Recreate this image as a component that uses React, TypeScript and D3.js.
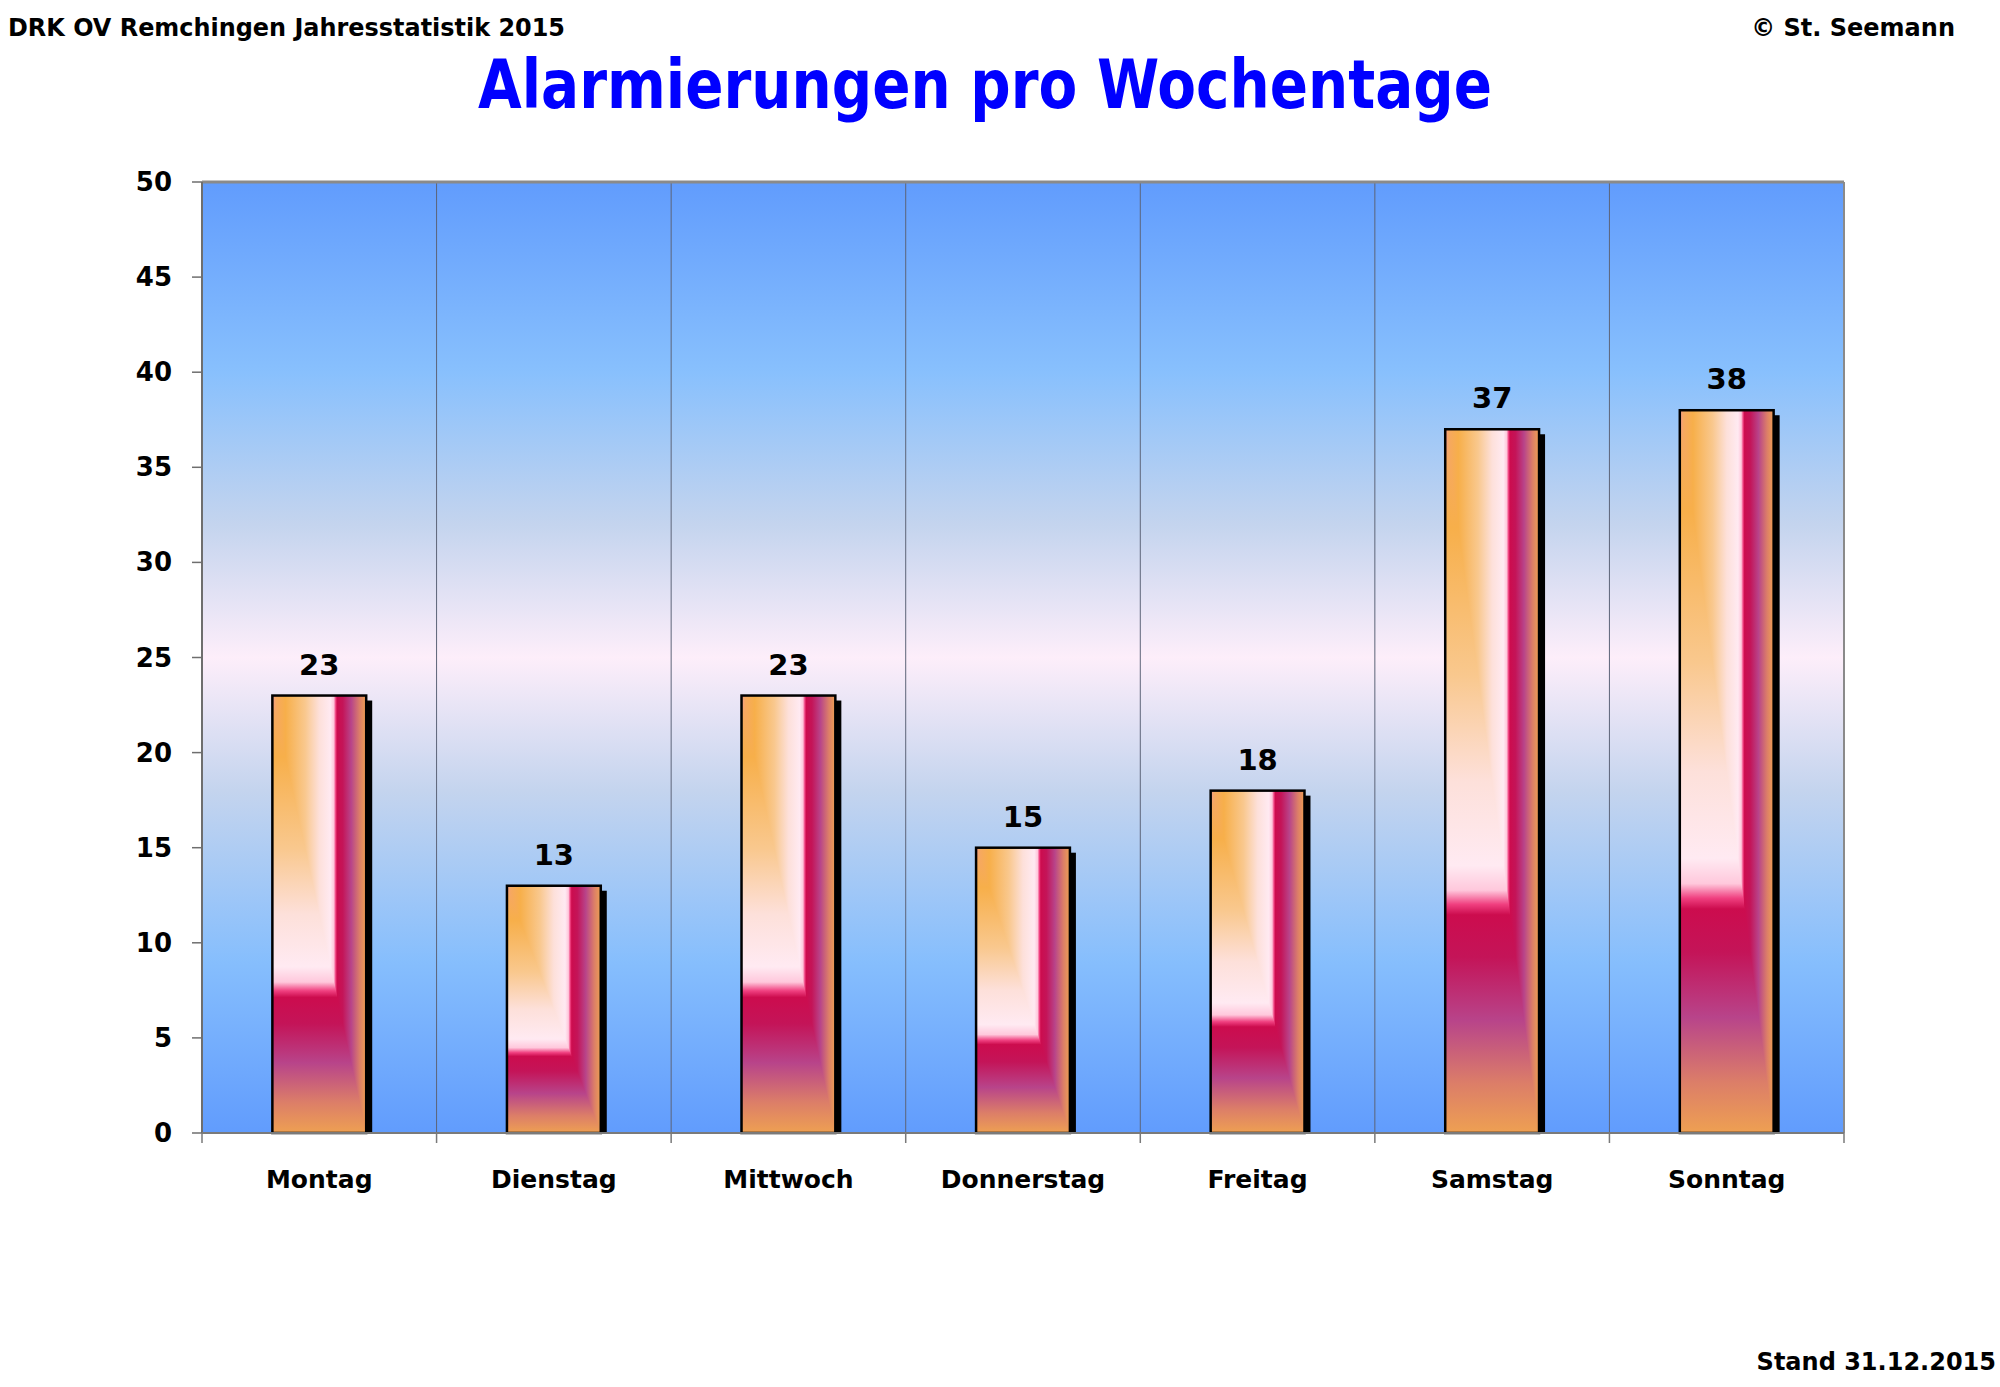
import React from "react";
import * as d3 from "d3";

const days = ["Montag", "Dienstag", "Mittwoch", "Donnerstag", "Freitag", "Samstag", "Sonntag"];
const alarms = [23, 13, 23, 15, 18, 37, 38];
const yTicks = [0, 5, 10, 15, 20, 25, 30, 35, 40, 45, 50];

const W = 2000;
const H = 1387;
const font = "'Comic Sans MS', 'DejaVu Sans', sans-serif";

// t = 0 at the bar's right/bottom edge, t = 1 at the left/top edge
const barStops: [number, string][] = [
  [0, "#eea052"],
  [0.07, "#dc7e68"],
  [0.16, "#b8448a"],
  [0.25, "#c41458"],
  [0.31, "#cc0c4e"],
  [0.325, "#f04080"],
  [0.345, "#ffc8dc"],
  [0.38, "#ffeaf2"],
  [0.5, "#fde0da"],
  [0.65, "#f9c88e"],
  [0.86, "#f7af4a"],
  [0.96, "#f6a860"],
  [1, "#f49c8c"],
];

const bgStops: [number, string][] = [
  [0, "#619cfd"],
  [0.2, "#88c0fd"],
  [0.36, "#c4d4ee"],
  [0.5, "#fdeefa"],
  [0.64, "#c4d4ee"],
  [0.82, "#86befd"],
  [1, "#619cfd"],
];

export default function App() {
  const margin = { top: 182, right: 156, bottom: 254, left: 202 };
  const x0 = margin.left;
  const x1 = W - margin.right;
  const y0 = H - margin.bottom;
  const y1 = margin.top;

  const x = d3.scaleBand<string>().domain(days).range([x0, x1]).paddingInner(0.6).paddingOuter(0.3);
  const y = d3.scaleLinear().domain([0, 50]).range([y0, y1]);
  const step = x.step();
  const bounds = d3.range(days.length + 1).map((i) => x0 + i * step);

  return (
    <div style={{ position: "absolute", left: 0, top: 0, width: W, height: H, background: "#fff" }}>
      <svg width={W} height={H} style={{ display: "block" }}>
        <defs>
          <linearGradient id="bg" x1="0" y1="0" x2="0" y2="1">
            {bgStops.map(([o, c], i) => (
              <stop key={i} offset={o} stopColor={c} />
            ))}
          </linearGradient>
          <linearGradient id="barH" x1="1" y1="0" x2="0" y2="0">
            {barStops.map(([o, c], i) => (
              <stop key={i} offset={o} stopColor={c} />
            ))}
          </linearGradient>
          <linearGradient id="barV" x1="0" y1="1" x2="0" y2="0">
            {barStops.map(([o, c], i) => (
              <stop key={i} offset={o} stopColor={c} />
            ))}
          </linearGradient>
        </defs>

        {/* header texts */}
        <text x={8} y={36} fontFamily={font} fontWeight="bold" fontSize={25} textLength={557} lengthAdjust="spacingAndGlyphs">
          DRK OV Remchingen Jahresstatistik 2015
        </text>
        <text x={1955} y={36} fontFamily={font} fontWeight="bold" fontSize={24} textAnchor="end">
          © St. Seemann
        </text>
        <text
          x={985}
          y={108}
          fontFamily={font}
          fontWeight="bold"
          fontSize={68}
          fill="#0000ff"
          textAnchor="middle"
          textLength={1014}
          lengthAdjust="spacingAndGlyphs"
        >
          Alarmierungen pro Wochentage
        </text>
        <text x={1996} y={1370} fontFamily={font} fontWeight="bold" fontSize={24} textAnchor="end">
          Stand 31.12.2015
        </text>

        {/* plot background */}
        <rect x={x0} y={y1} width={x1 - x0} height={y0 - y1} fill="url(#bg)" />

        {/* vertical grid */}
        {bounds.slice(1, -1).map((bx, i) => (
          <line key={i} x1={bx} x2={bx} y1={y1} y2={y0} stroke="#5c6478" strokeWidth={1} />
        ))}

        {/* frame */}
        <line x1={x0} x2={x1} y1={y1} y2={y1} stroke="#8a8a8a" strokeWidth={3} />
        <line x1={x1} x2={x1} y1={y1} y2={y0} stroke="#8a8a8a" strokeWidth={2} />

        {/* bars */}
        {days.map((d, i) => {
          const bx = x(d)!;
          const bw = x.bandwidth();
          const by = y(alarms[i]);
          return (
            <g key={d}>
              <rect x={bx + 6} y={by + 5} width={bw} height={y0 - by - 5} fill="#000" />
              <rect x={bx} y={by} width={bw} height={y0 - by} fill="url(#barV)" />
              <polygon points={`${bx},${by} ${bx + bw},${by} ${bx + bw},${y0}`} fill="url(#barH)" />
              <rect x={bx} y={by} width={bw} height={y0 - by} fill="none" stroke="#000" strokeWidth={2.5} />
              <text
                x={bx + bw / 2}
                y={by - 21}
                fontFamily={font}
                fontWeight="bold"
                fontSize={29}
                textAnchor="middle"
              >
                {alarms[i]}
              </text>
            </g>
          );
        })}

        {/* y axis */}
        <line x1={x0} x2={x0} y1={y1} y2={y0} stroke="#6e6e6e" strokeWidth={2} />
        {yTicks.map((t) => (
          <g key={t}>
            <line x1={x0 - 10} x2={x0} y1={y(t)} y2={y(t)} stroke="#6e6e6e" strokeWidth={1.5} />
            <text x={172} y={y(t) + 9} fontFamily={font} fontWeight="bold" fontSize={26} textAnchor="end">
              {t}
            </text>
          </g>
        ))}

        {/* x axis */}
        <line x1={x0} x2={x1} y1={y0} y2={y0} stroke="#7a7a7a" strokeWidth={2} />
        {bounds.map((bx, i) => (
          <line key={i} x1={bx} x2={bx} y1={y0} y2={y0 + 10} stroke="#7a7a7a" strokeWidth={1.5} />
        ))}
        {days.map((d) => (
          <text
            key={d}
            x={x(d)! + x.bandwidth() / 2}
            y={1188}
            fontFamily={font}
            fontWeight="bold"
            fontSize={25}
            textAnchor="middle"
          >
            {d}
          </text>
        ))}
      </svg>
    </div>
  );
}
